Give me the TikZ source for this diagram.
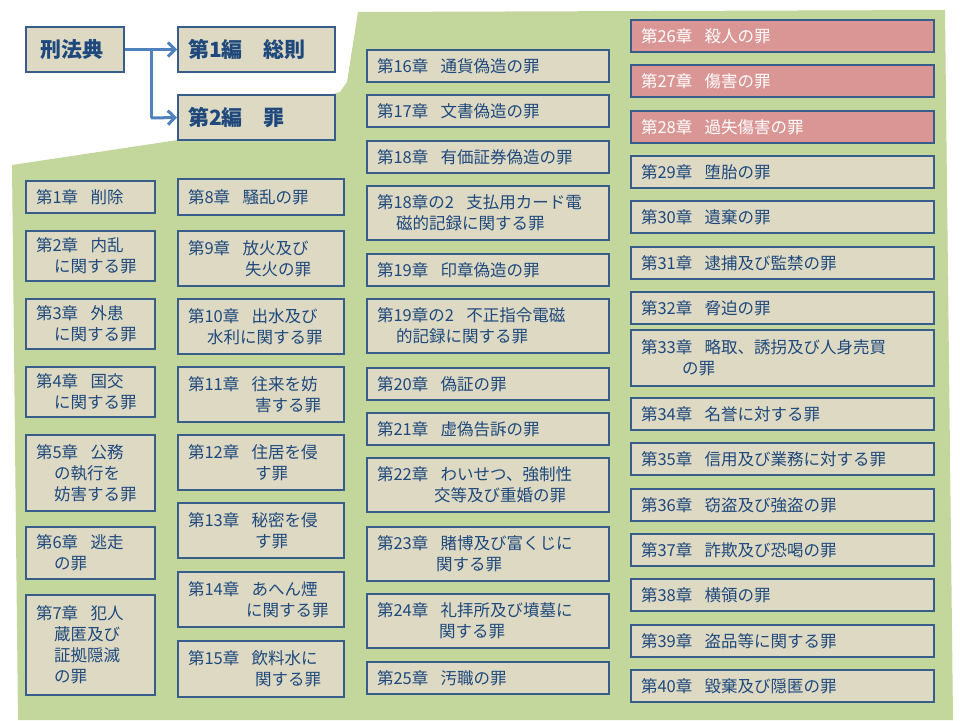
\documentclass[tikz,border=0pt]{standalone}
\usepackage{fontspec}
\setmainfont{Noto Sans CJK JP}
\begin{document}
\begin{tikzpicture}[x=1pt,y=-1pt,
  chbox/.style={draw=boxblue,line width=1.8pt,fill=boxfill,text=txtblue,font=\fontsize{16.5}{21}\selectfont,align=left,inner xsep=0pt,inner ysep=0pt},
  redbox/.style={chbox,fill=redfill,text=white},
  topbox/.style={chbox,font=\fontsize{21}{24}\selectfont\bfseries,line width=2pt},
  arr/.style={draw=arrblue,line width=3pt,->,>={Straight Barb[length=7pt,width=14pt]}}]
\usetikzlibrary{arrows.meta}
\definecolor{boxblue}{HTML}{385D8A}
\definecolor{boxfill}{HTML}{DDD9C3}
\definecolor{txtblue}{HTML}{1F497D}
\definecolor{redfill}{HTML}{D99694}
\definecolor{greenbg}{HTML}{C3D69B}
\definecolor{arrblue}{HTML}{4F81BD}
\useasboundingbox (0,0) rectangle (960,720);
\fill[white] (0,0) rectangle (960,720);
\fill[greenbg] (12,165) -- (178,140) -- (340,92) -- (347,82) -- (358,12) -- (945,10) -- (953,720) -- (18,720) -- cycle;
\newcommand\ch[7][chbox]{%
  \pgfmathsetmacro\bw{#5-#3}\pgfmathsetmacro\bh{#6-#4}\pgfmathsetmacro\tw{#5-#3-20}%
  \node[#1,minimum width=\bw pt,minimum height=\bh pt,text width=\tw pt] (#2) at ({(#3+#5)/2},{(#4+#6)/2}) {#7};}
\newcommand\gp{\hspace{0.75em}}
\newcommand\ind[1]{\\\hspace*{#1pt}}
% top
\ch[topbox]{law}{26}{27}{124}{72}{\hspace*{4pt}刑法典}
\ch[topbox]{h1}{178}{27}{335}{72}{第1編\hspace{1em}総則}
\ch[topbox]{h2}{178}{95}{335}{140}{第2編\hspace{1em}罪}
\coordinate (br) at (151,50);
\draw[arr] (law.east) -- (h1.west);
\draw[arrblue,line width=3pt] (br) -- (151,118);
\draw[arr] (151,118) -- (h2.west);
% col1
\ch{c1}{26}{181}{155}{213}{第1章\gp 削除}
\ch{c2}{26}{231}{155}{281}{第2章\gp 内乱\ind{18}に関する罪}
\ch{c3}{26}{299}{155}{349}{第3章\gp 外患\ind{18}に関する罪}
\ch{c4}{26}{367}{155}{417}{第4章\gp 国交\ind{18}に関する罪}
\ch{c5}{26}{435}{155}{511}{第5章\gp 公務\ind{18}の執行を\ind{18}妨害する罪}
\ch{c6}{26}{527}{155}{579}{第6章\gp 逃走\ind{18}の罪}
\ch{c7}{26}{595}{155}{695}{第7章\gp 犯人\ind{18}蔵匿及び\ind{18}証拠隠滅\ind{18}の罪}
% col2
\ch{c8}{178}{179}{344}{215}{第8章\gp 騒乱の罪}
\ch{c9}{178}{231}{344}{286}{第9章\gp 放火及び\ind{57}失火の罪}
\ch{c10}{178}{299}{344}{354}{第10章\gp 出水及び\ind{19}水利に関する罪}
\ch{c11}{178}{367}{344}{422}{第11章\gp 往来を妨\ind{67}害する罪}
\ch{c12}{178}{435}{344}{490}{第12章\gp 住居を侵\ind{67}す罪}
\ch{c13}{178}{503}{344}{558}{第13章\gp 秘密を侵\ind{67}す罪}
\ch{c14}{178}{572}{344}{627}{第14章\gp あへん煙\ind{58}に関する罪}
\ch{c15}{178}{641}{344}{697}{第15章\gp 飲料水に\ind{67}関する罪}
% col3
\ch{c16}{367}{50}{609}{82}{第16章\gp 通貨偽造の罪}
\ch{c17}{367}{95}{609}{127}{第17章\gp 文書偽造の罪}
\ch{c18}{367}{141}{609}{173}{第18章\gp 有価証券偽造の罪}
\ch{c18b}{367}{186}{609}{240}{第18章の2\gp 支払用カード電\ind{19}磁的記録に関する罪}
\ch{c19}{367}{254}{609}{286}{第19章\gp 印章偽造の罪}
\ch{c19b}{367}{299}{609}{353}{第19章の2\gp 不正指令電磁\ind{19}的記録に関する罪}
\ch{c20}{367}{368}{609}{400}{第20章\gp 偽証の罪}
\ch{c21}{367}{413}{609}{445}{第21章\gp 虚偽告訴の罪}
\ch{c22}{367}{458}{609}{512}{第22章\gp わいせつ、強制性\ind{57}交等及び重婚の罪}
\ch{c23}{367}{527}{609}{581}{第23章\gp 賭博及び富くじに\ind{59}関する罪}
\ch{c24}{367}{594}{609}{648}{第24章\gp 礼拝所及び墳墓に\ind{62}関する罪}
\ch{c25}{367}{662}{609}{694}{第25章\gp 汚職の罪}
% col4
\ch[redbox]{c26}{631}{20}{934}{52}{第26章\gp 殺人の罪}
\ch[redbox]{c27}{631}{65}{934}{97}{第27章\gp 傷害の罪}
\ch[redbox]{c28}{631}{111}{934}{143}{第28章\gp 過失傷害の罪}
\ch{c29}{631}{156}{934}{188}{第29章\gp 堕胎の罪}
\ch{c30}{631}{201}{934}{233}{第30章\gp 遺棄の罪}
\ch{c31}{631}{247}{934}{279}{第31章\gp 逮捕及び監禁の罪}
\ch{c32}{631}{292}{934}{324}{第32章\gp 脅迫の罪}
\ch{c33}{631}{330}{934}{386}{第33章\gp 略取、誘拐及び人身売買\ind{41}の罪}
\ch{c34}{631}{398}{934}{430}{第34章\gp 名誉に対する罪}
\ch{c35}{631}{443}{934}{475}{第35章\gp 信用及び業務に対する罪}
\ch{c36}{631}{489}{934}{521}{第36章\gp 窃盗及び強盗の罪}
\ch{c37}{631}{534}{934}{566}{第37章\gp 詐欺及び恐喝の罪}
\ch{c38}{631}{579}{934}{611}{第38章\gp 横領の罪}
\ch{c39}{631}{625}{934}{657}{第39章\gp 盗品等に関する罪}
\ch{c40}{631}{670}{934}{702}{第40章\gp 毀棄及び隠匿の罪}
\end{tikzpicture}
\end{document}
